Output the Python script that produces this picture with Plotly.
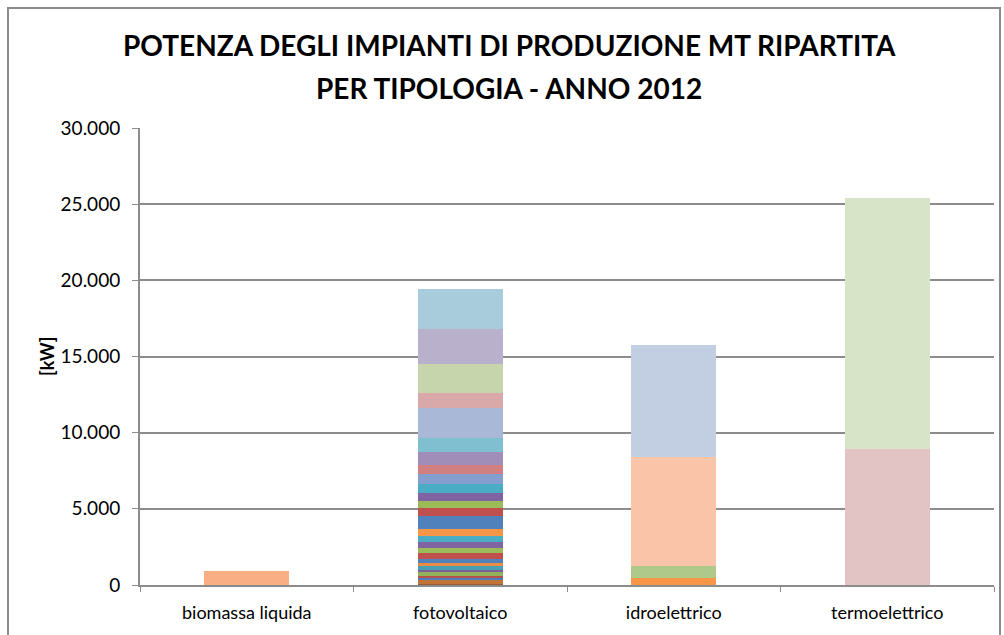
import plotly.graph_objects as go

categories = ["biomassa liquida", "fotovoltaico", "idroelettrico", "termoelettrico"]

biomassa_values = [950]
fotovoltaico_values = [79, 217, 151, 132, 243, 152, 263, 177, 264, 394, 329, 395, 415, 440,
                       856, 526, 460, 527, 592, 704, 546, 875, 921, 1974, 967, 1927, 2283, 2632]
idroelettrico_values = [490, 730, 7170, 7370]
termoelettrico_values = [8900, 16500]

y_ticks = [0, 5000, 10000, 15000, 20000, 25000, 30000]

biomassa_colors = ["#F9AE84"]
fotovoltaico_colors = ["#9A5B34", "#C07438", "#4A7EBB", "#B5504C", "#93B05A", "#7A5F9A", "#4A9EB3",
                       "#E98C45", "#4F81BD", "#C0504D", "#9BBB59", "#8064A2", "#4BACC6", "#F79646",
                       "#4F81BD", "#C0504D", "#9BBB59", "#8064A2", "#4BACC6", "#849FCE", "#D08080",
                       "#A08DB8", "#7FBFCF", "#A9B8D6", "#D9A9A9", "#C6D5AB", "#B9B0CB", "#A8CCDC"]
idroelettrico_colors = ["#F79646", "#AFC98A", "#F9C4A8", "#C2CFE2"]
termoelettrico_colors = ["#E2C4C4", "#D8E4C8"]

series = [
    (categories[0], biomassa_values, biomassa_colors),
    (categories[1], fotovoltaico_values, fotovoltaico_colors),
    (categories[2], idroelettrico_values, idroelettrico_colors),
    (categories[3], termoelettrico_values, termoelettrico_colors),
]

fig = go.Figure()
for cat, vals, cols in series:
    for v, c in zip(vals, cols):
        fig.add_trace(go.Bar(x=[cat], y=[v], marker=dict(color=c, line=dict(width=0)),
                             showlegend=False, hoverinfo="x+y"))

W, H = 1004, 635
L, R, T, B = 140, 10, 128, 50
pw, ph = W - L - R, H - T - B

def px(x):
    return (x - L) / pw

def py(y):
    return (H - B - y) / ph

grid = "#8C8C8C"
font_family = "Lato, 'Open Sans', sans-serif"

fig.update_layout(
    width=W, height=H,
    margin=dict(l=L, r=R, t=T, b=B),
    barmode="stack",
    bargap=0.6,
    plot_bgcolor="white",
    paper_bgcolor="white",
    separators=",.",
    font=dict(family=font_family, size=19, color="#000000"),
    xaxis=dict(
        categoryorder="array", categoryarray=categories,
        showline=True, linecolor=grid, linewidth=2,
        ticks="outside", tickson="boundaries", ticklen=5, tickcolor=grid, tickwidth=1,
        showgrid=False, tickfont=dict(size=18), ticklabelstandoff=10,
    ),
    yaxis=dict(
        range=[0, 30000], tickvals=y_ticks, tickformat=",d",
        showline=True, linecolor=grid, linewidth=2,
        ticks="outside", ticklen=6, tickcolor=grid, tickwidth=1,
        showgrid=True, gridcolor=grid, gridwidth=2,
        zeroline=False, tickfont=dict(size=19), ticklabelstandoff=8,
    ),
    shapes=[dict(type="rect", xref="paper", yref="paper",
                 x0=px(8), x1=px(1000), y0=py(645), y1=py(8),
                 line=dict(color="#8C8C8C", width=2), fillcolor="rgba(0,0,0,0)", layer="below")],
    annotations=[
        dict(text="<b>POTENZA DEGLI IMPIANTI DI PRODUZIONE MT RIPARTITA</b>", xref="paper", yref="paper",
             x=px(509), y=py(45), showarrow=False, font=dict(size=28, family=font_family),
             xanchor="center", yanchor="middle"),
        dict(text="<b>PER TIPOLOGIA - ANNO 2012</b>", xref="paper", yref="paper",
             x=px(509), y=py(88), showarrow=False, font=dict(size=28, family=font_family),
             xanchor="center", yanchor="middle"),
        dict(text="<b>[kW]</b>", xref="paper", yref="paper", x=px(47), y=py(357),
             showarrow=False, textangle=-90, font=dict(size=18, family=font_family),
             xanchor="center", yanchor="middle"),
    ],
)

fig.write_html("out.html", config={"displayModeBar": False},
               post_script="document.body.style.margin='0';document.body.style.overflow='hidden';")
